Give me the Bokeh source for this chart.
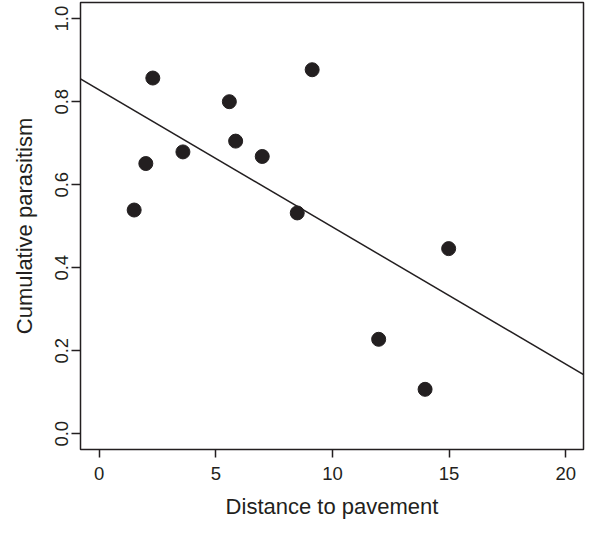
from bokeh.plotting import figure
from bokeh.models import Range1d, Slope, FixedTicker
from bokeh.embed import file_html
from bokeh.resources import INLINE

# Data
distance = [2.30, 9.13, 5.58, 5.85, 3.59, 6.99, 2.00, 1.50, 8.49, 14.98, 11.98, 13.97]
parasitism = [0.857, 0.877, 0.800, 0.705, 0.679, 0.668, 0.651, 0.539, 0.532, 0.446, 0.2275, 0.107]
fit_intercept = 0.8286
fit_slope = -0.03305
x_ticks = [0, 5, 10, 15, 20]
y_ticks = [0.0, 0.2, 0.4, 0.6, 0.8, 1.0]
y_tick_labels = {0.0: "0.0", 0.2: "0.2", 0.4: "0.4", 0.6: "0.6", 0.8: "0.8", 1.0: "1.0"}

INK = "#231f20"
FONT = "Liberation Sans"

p = figure(width=585, height=521, output_backend="svg", toolbar_location=None,
           x_range=Range1d(-0.80, 20.76), y_range=Range1d(-0.038, 1.039),
           min_border_left=80, min_border_right=2, min_border_top=2, min_border_bottom=70)

p.background_fill_color = "white"
p.border_fill_color = "white"
p.outline_line_color = INK
p.outline_line_width = 1.5
p.grid.visible = False

p.add_layout(Slope(gradient=fit_slope, y_intercept=fit_intercept, line_color=INK, line_width=1.5))
p.scatter(distance, parasitism, size=14, fill_color=INK, line_color=INK)

xa = p.xaxis[0]
xa.ticker = FixedTicker(ticks=x_ticks)
xa.axis_label = "Distance to pavement"
ya = p.yaxis[0]
ya.ticker = FixedTicker(ticks=y_ticks)
ya.major_label_overrides = y_tick_labels
ya.axis_label = "Cumulative parasitism"
ya.major_label_orientation = "vertical"

for ax in (xa, ya):
    ax.axis_line_color = None
    ax.major_tick_line_color = INK
    ax.major_tick_line_width = 1.5
    ax.major_tick_in = 0
    ax.minor_tick_line_color = None
    ax.major_label_text_font = FONT
    ax.major_label_text_font_size = "18.5px"
    ax.major_label_text_color = INK
    ax.axis_label_text_font = FONT
    ax.axis_label_text_font_size = "22px"
    ax.axis_label_text_font_style = "normal"
    ax.axis_label_text_color = INK

xa.major_tick_out = 8
xa.major_label_standoff = 9
xa.axis_label_standoff = 11
ya.major_tick_out = 9
ya.major_label_standoff = 3
ya.axis_label_standoff = 16

open("out.html", "w").write(file_html(p, INLINE))
